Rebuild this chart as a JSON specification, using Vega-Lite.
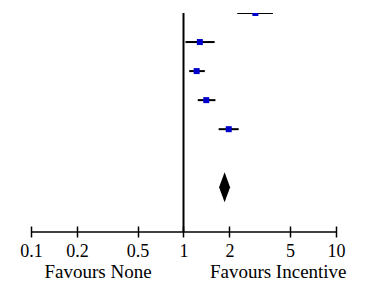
{
  "$schema": "https://vega.github.io/schema/vega-lite/v6.json",
  "autosize": "none",
  "width": 305,
  "height": 219,
  "padding": {"left": 31, "top": 13, "right": 30, "bottom": 52},
  "config": {"view": {"stroke": null}},
  "datasets": {
    "studies": [
      {"row": 1, "est": 2.96, "lo": 2.25, "hi": 3.86},
      {"row": 2, "est": 1.28, "lo": 1.03, "hi": 1.60},
      {"row": 3, "est": 1.22, "lo": 1.09, "hi": 1.38},
      {"row": 4, "est": 1.41, "lo": 1.24, "hi": 1.62},
      {"row": 5, "est": 1.98, "lo": 1.70, "hi": 2.30}
    ],
    "pooled": [{"row": 7, "est": 1.86, "lo": 1.73, "hi": 2.04}],
    "notes": [
      {"label": "Favours None", "x": 0.275, "y": 10.14},
      {"label": "Favours Incentive", "x": 4.18, "y": 10.14}
    ]
  },
  "layer": [
    {
      "data": {"values": [{"ref": 1}]},
      "mark": {"type": "rule", "color": "black", "strokeWidth": 2},
      "encoding": {
        "x": {"field": "ref", "type": "quantitative",
          "scale": {"type": "log", "domain": [0.1, 10], "nice": false},
          "axis": {
            "values": [0.1, 0.2, 0.5, 1, 2, 5, 10],
            "format": "~g",
            "title": null,
            "grid": false,
            "domain": false,
            "offset": -6,
            "tickSize": 11,
            "tickColor": "black",
            "tickWidth": 1.5,
            "labelFont": "serif",
            "labelFontSize": 18,
            "labelColor": "black",
            "labelBaseline": "alphabetic",
            "labelPadding": 19,
            "labelFlush": false
          }
        }
      }
    },
    {
      "data": {"values": [{"bottom": 8.54}]},
      "mark": {"type": "rule", "color": "black", "strokeWidth": 1.5},
      "encoding": {
        "y": {"field": "bottom", "type": "quantitative",
          "scale": {"domain": [1, 8.54], "reverse": true, "nice": false, "zero": false},
          "axis": null}
      }
    },
    {
      "data": {"name": "studies"},
      "mark": {"type": "rule", "color": "black", "strokeWidth": 2, "clip": true},
      "encoding": {
        "x": {"field": "lo", "type": "quantitative"},
        "x2": {"field": "hi"},
        "y": {"field": "row", "type": "quantitative"}
      }
    },
    {
      "data": {"name": "studies"},
      "mark": {"type": "point", "shape": "square", "filled": true, "color": "#0000CC", "opacity": 1, "size": 36, "clip": true},
      "encoding": {
        "x": {"field": "est", "type": "quantitative"},
        "y": {"field": "row", "type": "quantitative"}
      }
    },
    {
      "data": {"name": "pooled"},
      "mark": {"type": "point", "shape": "M0,-1L0.367,0L0,1L-0.367,0Z", "filled": true, "color": "black", "opacity": 1, "size": 900},
      "encoding": {
        "x": {"field": "est", "type": "quantitative"},
        "y": {"field": "row", "type": "quantitative"}
      }
    },
    {
      "data": {"name": "notes"},
      "mark": {"type": "text", "font": "Times New Roman", "fontSize": 19, "color": "black", "align": "center", "baseline": "alphabetic"},
      "encoding": {
        "x": {"field": "x", "type": "quantitative"},
        "y": {"field": "y", "type": "quantitative"},
        "text": {"field": "label"}
      }
    }
  ]
}
